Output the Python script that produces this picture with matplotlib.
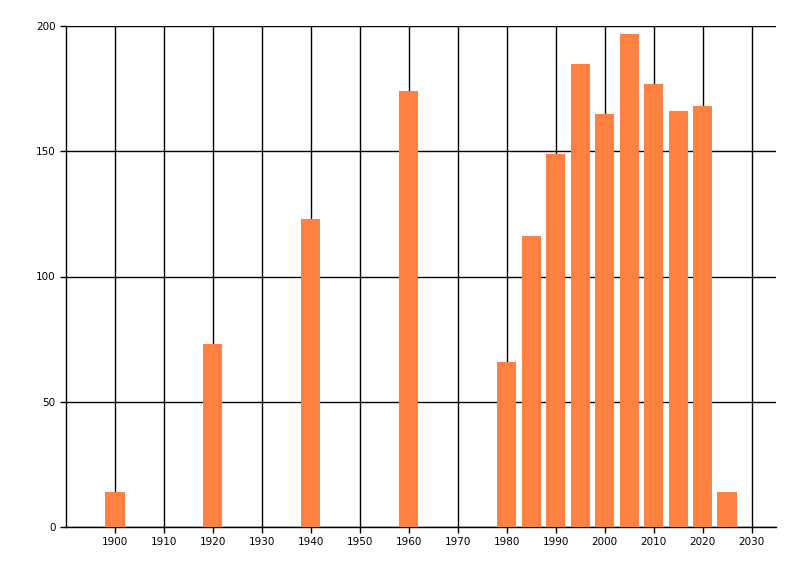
import matplotlib.pyplot as plt

years = [1900, 1920, 1940, 1960, 1980, 1985, 1990, 1995, 2000, 2005, 2010, 2015, 2020, 2025]
counts = [14, 73, 123, 174, 66, 116, 149, 185, 165, 197, 177, 166, 168, 14]
xticks = list(range(1900, 2031, 10))
yticks = [0, 50, 100, 150, 200]

fig = plt.figure(figsize=(8, 5.76), dpi=100)
ax = fig.add_axes([66/800, 49/576, 710/800, 501/576])

ax.set_axisbelow(True)
ax.grid(True, color='black', linewidth=1)
ax.bar(years, counts, width=3.9, color='#ff8040', zorder=3)

ax.set_xlim(1890, 2035)
ax.set_ylim(0, 200)
ax.set_xticks(xticks)
ax.set_yticks(yticks)
ax.tick_params(labelsize=7.5, length=4, width=1, colors='black')

for s in ['top', 'right']:
    ax.spines[s].set_visible(False)
ax.spines['left'].set_linewidth(1)
ax.spines['bottom'].set_linewidth(1)

fig.savefig('out.png', dpi=100)
